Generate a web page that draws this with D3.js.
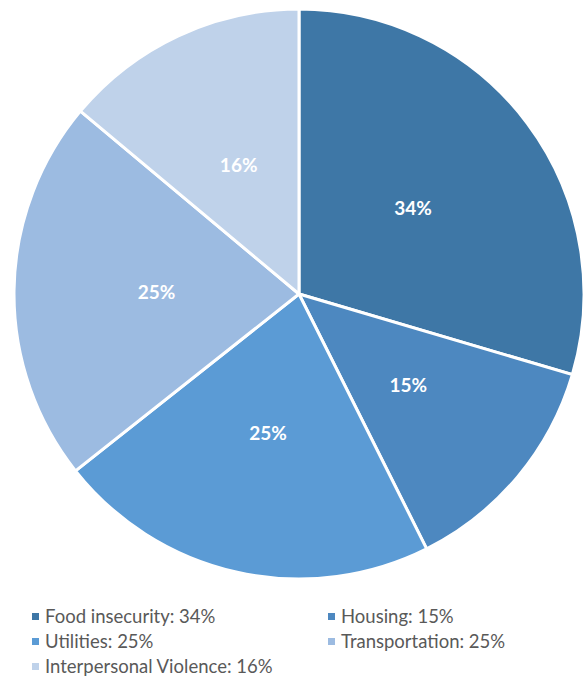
<!DOCTYPE html>
<html lang="en">
<head>
    <meta charset="UTF-8">
    <title>Pie</title>
    <script src="https://d3js.org/d3.v7.min.js"></script>
    <style>
        body { margin: 0; background: #fff; }
        .slice { stroke: white; stroke-width: 3; }
        .lbl { fill: white; font-family: Lato, "Open Sans", sans-serif; font-weight: bold; font-size: 19px; }
        .leg text { fill: #595959; font-family: Lato, "Open Sans", sans-serif; font-size: 18.5px; }
    </style>
</head>
<body>
<script>
    const width = 588;
    const height = 678;

    const categories = ["Food insecurity", "Housing", "Utilities", "Transportation", "Interpersonal Violence"];
    const values = [34, 15, 25, 25, 16];
    const colors = ["#3e77a6", "#4d88c0", "#5b9bd5", "#9cbbe1", "#bfd2ea"];

    const cx = 299, cy = 294, r = 285;

    const svg = d3.select("body").append("svg")
            .attr("width", width).attr("height", height);

    const pie = d3.pie().sort(null).value(d => d);
    const arc = d3.arc().innerRadius(0).outerRadius(r);
    const labelArc = d3.arc().innerRadius(r * 0.5).outerRadius(r * 0.5);

    const g = svg.append("g").attr("transform", `translate(${cx},${cy})`);
    const arcs = pie(values);

    g.selectAll("path.slice")
            .data(arcs).enter()
            .append("path")
            .attr("class", "slice")
            .attr("fill", (d, i) => colors[i])
            .attr("d", arc);

    g.selectAll("text.lbl")
            .data(arcs).enter()
            .append("text")
            .attr("class", "lbl")
            .attr("transform", d => `translate(${labelArc.centroid(d)})`)
            .attr("text-anchor", "middle")
            .attr("dy", "0.35em")
            .text(d => d.data + "%");

    // legend: two columns, three rows
    const leg = svg.append("g").attr("class", "leg");
    const item = leg.selectAll("g")
            .data(categories).enter()
            .append("g")
            .attr("transform", (d, i) => `translate(${i % 2 ? 328 : 32},${617 + Math.floor(i / 2) * 25})`);

    item.append("rect")
            .attr("x", 0).attr("y", -4)
            .attr("width", 7).attr("height", 7)
            .attr("fill", (d, i) => colors[i]);

    item.append("text")
            .attr("x", 13)
            .attr("dy", "0.35em")
            .text((d, i) => `${d}: ${values[i]}%`);
</script>
</body>
</html>
